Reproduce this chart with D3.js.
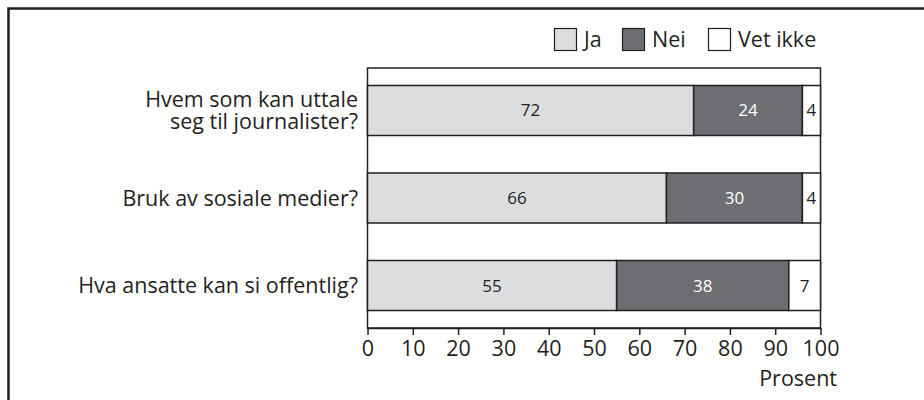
<!DOCTYPE html>
<html>
<head>
<meta charset="utf-8">
<script src="https://cdn.jsdelivr.net/npm/d3@7"></script>
<style>
  body { margin: 0; background: #fff; }
  svg { display: block; font-family: "Open Sans", sans-serif; }
</style>
</head>
<body>
<svg width="924" height="400"></svg>
<script>
// data
var categories = ["Hvem som kan uttale\nseg til journalister?", "Bruk av sosiale medier?", "Hva ansatte kan si offentlig?"];
var seriesNames = ["Ja", "Nei", "Vet ikke"];
var ja = [72, 66, 55];
var nei = [24, 30, 38];
var vetIkke = [4, 4, 7];
var xTicks = [0, 10, 20, 30, 40, 50, 60, 70, 80, 90, 100];

var fills = ["#dcdddf", "#6d6e71", "#ffffff"];
var labelColors = ["#231f20", "#ffffff", "#231f20"];
var ink = "#231f20";
var fs = 21.5;

var svg = d3.select("svg");

// outer frame (runs off the right and bottom edge)
svg.append("rect")
  .attr("x", 8.5).attr("y", 8.5)
  .attr("width", 960).attr("height", 420)
  .attr("fill", "none").attr("stroke", ink).attr("stroke-width", 2.5);

// plot box
var pLeft = 367.5, pRight = 820.5, pTop = 68, pBottom = 328;

var x = d3.scaleLinear().domain([0, 100]).range([pLeft, pRight]);
var y = d3.scaleBand().domain(d3.range(categories.length)).range([pTop, pBottom])
  .paddingInner(0.4286).paddingOuter(0.2);

// table for stacking
var rows = categories.map(function(c, i) {
  return { cat: c, "Ja": ja[i], "Nei": nei[i], "Vet ikke": vetIkke[i] };
});
var stacked = d3.stack().keys(seriesNames)(rows);

// plot frame
svg.append("rect")
  .attr("x", pLeft).attr("y", pTop)
  .attr("width", pRight - pLeft).attr("height", pBottom - pTop)
  .attr("fill", "none").attr("stroke", ink).attr("stroke-width", 1.5);

var groups = svg.append("g").selectAll("g")
  .data(stacked).enter().append("g");

groups.selectAll("rect")
  .data(function(d) { return d.map(function(v, i) { return { s: d.index, i: i, v: v }; }); })
  .enter().append("rect")
  .attr("x", function(d) { return x(d.v[0]); })
  .attr("y", function(d) { return y(d.i); })
  .attr("width", function(d) { return x(d.v[1]) - x(d.v[0]); })
  .attr("height", y.bandwidth())
  .attr("fill", function(d) { return fills[d.s]; })
  .attr("stroke", ink).attr("stroke-width", 1.5);

groups.selectAll("text")
  .data(function(d) { return d.map(function(v, i) { return { s: d.index, i: i, v: v }; }); })
  .enter().append("text")
  .attr("x", function(d) { return (x(d.v[0]) + x(d.v[1])) / 2; })
  .attr("y", function(d) { return y(d.i) + y.bandwidth() / 2 + 6; })
  .attr("text-anchor", "middle")
  .attr("font-size", 17)
  .attr("fill", function(d) { return labelColors[d.s]; })
  .text(function(d) { return d.v[1] - d.v[0]; });

// category labels
var catText = svg.append("g").selectAll("text")
  .data(categories).enter().append("text")
  .attr("text-anchor", "end")
  .attr("font-size", fs)
  .attr("fill", ink)
  .attr("y", function(d, i) {
    var n = d.split("\n").length;
    return y(i) + y.bandwidth() / 2 + 7.5 - (n - 1) * 11.25;
  });
catText.selectAll("tspan")
  .data(function(d) { return d.split("\n"); })
  .enter().append("tspan")
  .attr("x", 358)
  .attr("dy", function(d, j) { return j ? 22.5 : 0; })
  .text(function(d) { return d; });

// x axis
var axis = svg.append("g")
  .attr("transform", "translate(0," + pBottom + ")")
  .call(d3.axisBottom(x).tickValues(xTicks).tickSize(7).tickPadding(6).tickSizeOuter(0));
axis.select(".domain").attr("stroke", ink).attr("stroke-width", 1.5);
axis.selectAll(".tick line").attr("stroke", ink).attr("stroke-width", 1.5);
axis.selectAll(".tick text")
  .attr("font-family", "Open Sans, sans-serif")
  .attr("font-size", fs).attr("fill", ink);

svg.append("text")
  .attr("x", 837).attr("y", 386)
  .attr("text-anchor", "end")
  .attr("font-size", fs).attr("fill", ink)
  .text("Prosent");

// legend
var legendX = [554, 622, 708];
var legend = svg.append("g").selectAll("g")
  .data(seriesNames).enter().append("g")
  .attr("transform", function(d, i) { return "translate(" + legendX[i] + ",28)"; });
legend.append("rect")
  .attr("x", 0.5).attr("y", 0.5)
  .attr("width", 22).attr("height", 22)
  .attr("fill", function(d, i) { return fills[i]; })
  .attr("stroke", ink).attr("stroke-width", 1.2);
legend.append("text")
  .attr("x", 30).attr("y", 19)
  .attr("font-size", fs).attr("fill", ink)
  .text(function(d) { return d; });
</script>
</body>
</html>
